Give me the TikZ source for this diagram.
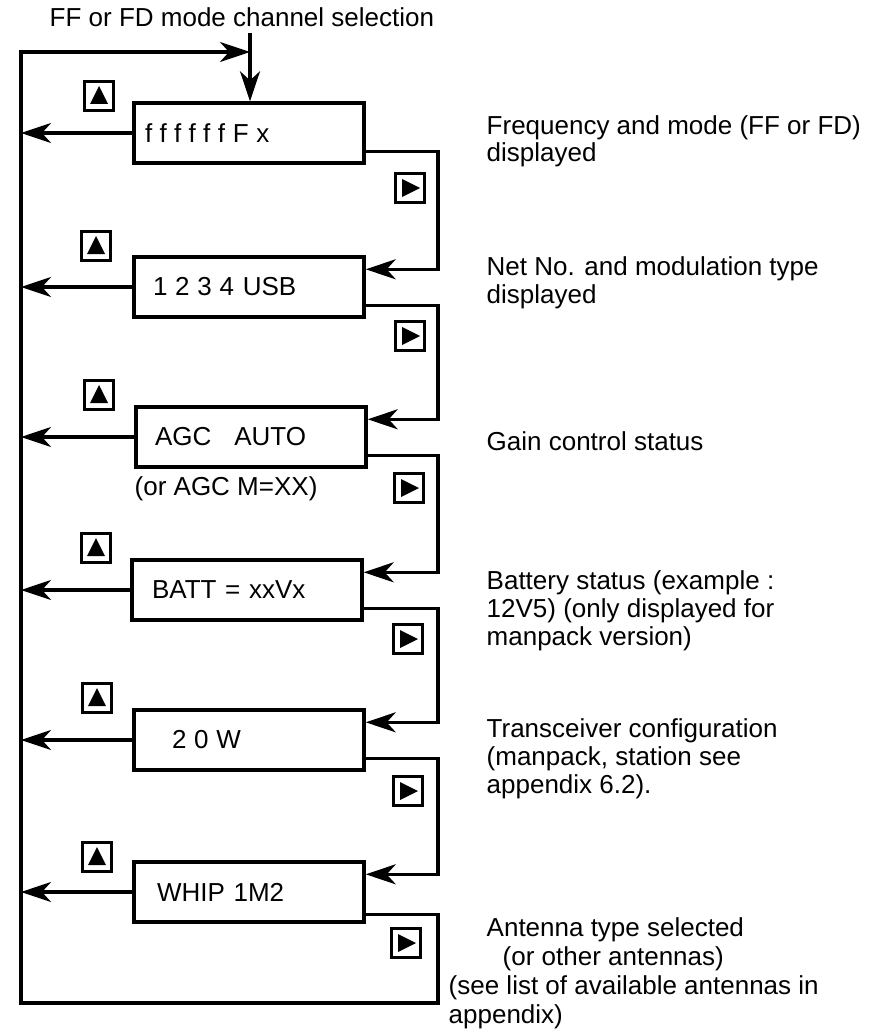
\documentclass[tikz,border=0pt]{standalone}
\usepackage{fontspec}
\setmainfont{Liberation Sans}
\newfontfamily\widefont[LetterSpace=30]{Liberation Sans}
\usetikzlibrary{arrows.meta,calc}
\begin{document}
\begin{tikzpicture}[x=1pt,y=-1pt,
  line width=3.4pt,
  every node/.style={font=\fontsize{26}{28}\selectfont},
  box/.style={draw, line width=3.4pt, minimum width=230pt, minimum height=60pt,
    inner xsep=0pt, inner ysep=0pt, text width=196pt, align=left},
  btn/.style={draw, line width=3.4pt, minimum size=29pt, inner sep=0pt},
  upbtn/.style={btn, path picture={\fill ($(path picture bounding box.center)+(-9,8)$) -- ($(path picture bounding box.center)+(9,8)$) -- ($(path picture bounding box.center)+(0,-10)$) -- cycle;}},
  rightbtn/.style={btn, path picture={\fill ($(path picture bounding box.center)+(-8,-9)$) -- ($(path picture bounding box.center)+(-8,9)$) -- ($(path picture bounding box.center)+(10,0)$) -- cycle;}},
  arr/.style={-{Stealth[length=30pt,width=20pt,inset=9pt]}},
  note/.style={anchor=base west, inner sep=0pt, align=left}
]
\useasboundingbox (0,0) rectangle (873,1035);
\fill[white] (0,0) rectangle (873,1035);

% reference coordinates
\coordinate (L) at (21,0);
\coordinate (R) at (438,0);
\coordinate (B) at (0,1003);
\coordinate (T) at (250,52);

% title
\node[note] (title) at (48,27) {FF or FD mode channel selection};

% boxes
\node[box] (b1) at (249,133) {\hspace*{-6pt}{\widefont ffffffFx}};
\node[box] (b2) at (249,287) {\hspace*{2pt}{\widefont 1234} USB};
\node[box] (b3) at (251,437) {\hspace*{2pt}AGC\hspace{23pt}AUTO};
\node[box] (b4) at (247,590) {\hspace*{3pt}BATT = xxVx};
\node[box] (b5) at (249,740) {\hspace*{21pt}{\widefont 20W}};
\node[box] (b6) at (249,892) {\hspace*{6pt}WHIP 1M2};
\node[note] (agcm) at (133,495) {(or AGC M=XX)};

% up buttons
\node[upbtn] (u1) at (99,96) {};
\node[upbtn] (u2) at (96,246) {};
\node[upbtn] (u3) at (99,395) {};
\node[upbtn] (u4) at (96,548) {};
\node[upbtn] (u5) at (97,698) {};
\node[upbtn] (u6) at (97,857) {};

% right buttons
\node[rightbtn] (r1) at (410,188) {};
\node[rightbtn] (r2) at (410,336) {};
\node[rightbtn] (r3) at (409,488) {};
\node[rightbtn] (r4) at (408,639) {};
\node[rightbtn] (r5) at (408,791) {};
\node[rightbtn] (r6) at (406,943) {};

% descriptions (base anchor = baseline of last line)
\node[note] (t1) at (485,162) {Frequency and mode (FF or FD)\\displayed};
\node[note] (t2) at (485,303) {Net No. and modulation type\\displayed};
\node[note] (t3) at (485,450) {Gain control status};
\node[note] (t4) at (485,645) {Battery status (example :\\12V5) (only displayed for\\manpack version)};
\node[note] (t5) at (485,793) {Transceiver configuration\\(manpack, station see\\appendix 6.2).};
\node[note, font=\fontsize{26}{29}\selectfont] (t6) at (447,1023) {\hspace*{38pt}Antenna type selected\\\hspace*{54pt}(or other antennas)\\(see list of available antennas in\\appendix)};

% entry arrow
\draw[arr, shorten <=4pt] (title.south -| T) -- (b1.north -| T);

% left arrows
\foreach \i in {1,...,6} {
  \draw[arr] (b\i.west) -- (b\i.west -| L);
}

% right connectors
\foreach \i/\j in {1/2,2/3,3/4,4/5,5/6} {
  \coordinate (o\i) at ($(b\i.south east)+(0,-13)$);
  \coordinate (i\j) at ($(b\j.north east)+(0,14)$);
  \draw[arr] (o\i) -- (o\i -| R) -- (i\j -| R) -- (i\j);
}

% return loop
\coordinate (o6) at ($(b6.south east)+(0,-9)$);
\draw[arr] (o6) -- (o6 -| R) -- (R |- B) -- (L |- B) -- (L |- T) -- (T);
\end{tikzpicture}
\end{document}
